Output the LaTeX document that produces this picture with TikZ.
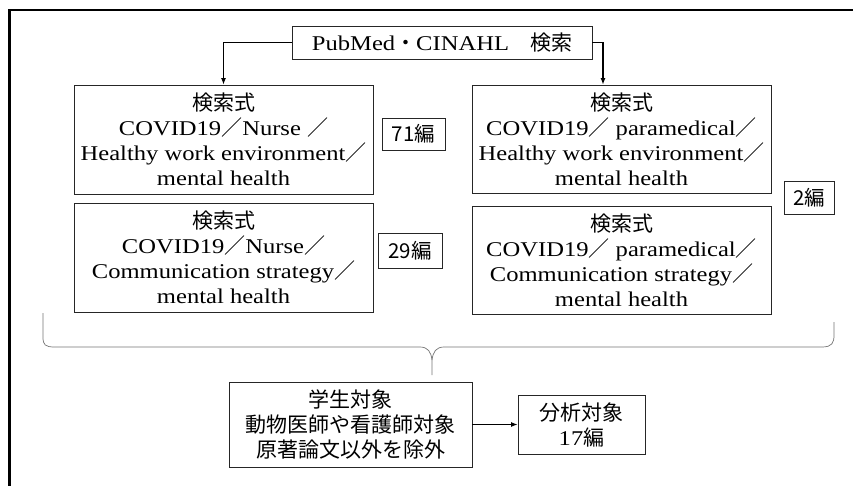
\documentclass[tikz,border=0pt]{standalone}
\usepackage{fontspec}
\setmainfont{Liberation Serif}[FakeStretch=1.17]
\newfontfamily\jp{Noto Sans CJK JP}
\usetikzlibrary{arrows.meta}
\newcommand{\zslash}{{\jp ／}}
\tikzset{
  searchbox/.style={draw=black!85, line width=0.8pt, minimum width=299pt,
    minimum height=109pt, inner sep=0pt, align=center,
    font=\fontsize{21}{25}\selectfont},
  countbox/.style={draw=black!85, line width=0.8pt, inner sep=0pt,
    font=\jp\fontsize{20.5}{22}\selectfont},
  stepnode/.style={draw=black!85, line width=0.8pt, inner sep=0pt, align=center,
    font=\fontsize{21}{25}\selectfont},
  flowarrow/.style={-{Latex[length=6.5pt,width=5pt]}, line width=1.2pt},
}
\begin{document}
\begin{tikzpicture}[x=1pt,y=-1pt]
            \useasboundingbox (0,0) rectangle (853,486);
            {

            % Drawing outer frame
            \draw [line width=2.5pt] (9.5,486) -- (9.5,10) -- (853,10);%

            % Drawing search start
            \node [stepnode, minimum width=300pt, minimum height=33pt] (search) at (442,42.5)
              {PubMed{\jp ・}CINAHL{\jp 　検索}};%

            % Drawing query boxes
            \node [searchbox] (nurseHWE) at (223.5,139.5)
              {{\jp 検索式}\\COVID19\zslash Nurse \zslash\\Healthy work environment\zslash\\mental health};%
            \node [searchbox] (nurseCS) at (223.5,257.5)
              {{\jp 検索式}\\COVID19\zslash Nurse\zslash\\Communication strategy\zslash\\mental health};%
            \node [searchbox, minimum height=108pt] (paraHWE) at (621.5,139)
              {{\jp 検索式}\\COVID19\zslash\ paramedical\zslash\\Healthy work environment\zslash\\mental health};%
            \node [searchbox, minimum height=108pt] (paraCS) at (621.5,260)
              {{\jp 検索式}\\COVID19\zslash\ paramedical\zslash\\Communication strategy\zslash\\mental health};%

            % Marking counts
            \node [countbox, minimum width=63pt, minimum height=32pt] (countA) at (413.5,134) {71編};%
            \node [countbox, minimum width=64pt, minimum height=35pt] (countB) at (410,250.5) {29編};%
            \node [countbox, minimum width=50pt, minimum height=33pt] (countC) at (809,197.5) {2編};%

            % Drawing arrows from search start
            \draw [flowarrow] (search.west) -| (nurseHWE.north);%
            \draw [flowarrow] (search.east) -| ([xshift=-18.5pt]paraHWE.north);%

            % Drawing brace
            \draw [black!55, line width=0.7pt] (43,313) -- (43,337) .. controls (43,345) and (45,347) .. (55,347)
              -- (420,347) .. controls (428,347) and (431,352) .. (432,360) -- (432,375);%
            \draw [black!55, line width=0.7pt] (432,360) .. controls (433,352) and (436,347) .. (444,347)
              -- (822,347) .. controls (832,347) and (834,343) .. (834,335) -- (834,322);%

            % Drawing exclusion and result
            \node [stepnode, minimum width=243pt, minimum height=85pt, font=\jp\fontsize{21}{25}\selectfont] (exclude) at (350.5,424.5)
              {学生対象\\動物医師や看護師対象\\原著論文以外を除外};%
            \node [stepnode, minimum width=127pt, minimum height=59pt] (result) at (581.5,424.5)
              {{\jp 分析対象}\\17{\jp 編}};%
            \draw [flowarrow] (exclude) -- (result);%
            }
\end{tikzpicture}
\end{document}
